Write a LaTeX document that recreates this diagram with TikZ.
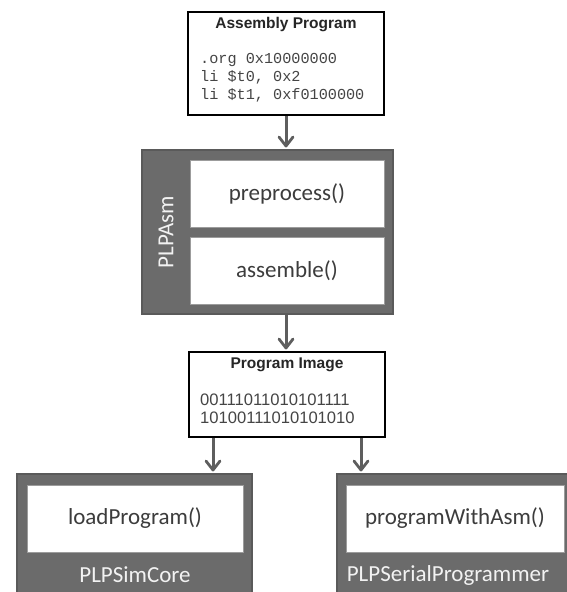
\documentclass[tikz,border=0pt]{standalone}
\usepackage{fontspec}
\setmainfont{Carlito}
\newfontfamily\headfont{Liberation Sans}
\newfontfamily\codefont{Liberation Mono}
\usetikzlibrary{arrows.meta}
\definecolor{boxgrey}{HTML}{6B6B6B}
\definecolor{boxedge}{HTML}{5A5A5A}
\definecolor{arrowgrey}{HTML}{5E5E5E}
\definecolor{inktext}{HTML}{3C3C3C}
\definecolor{codetext}{HTML}{454545}
\definecolor{labeltext}{HTML}{F2F2F2}
\tikzset{
  module/.style={draw=boxedge, line width=1.2pt, fill=boxgrey},
  method/.style={draw=boxedge!60, line width=0.8pt, fill=white},
  methodtext/.style={font=\fontsize{23}{26}\selectfont, text=inktext},
  modlabel/.style={font=\fontsize{23}{26}\selectfont, text=labeltext},
  databox/.style={draw=black, line width=2pt, fill=white},
  datatitle/.style={font=\headfont\bfseries\fontsize{15.5}{18}\selectfont, text=black!85},
  codeline/.style={font=\codefont\fontsize{15.2}{17.5}\selectfont, text=codetext, anchor=west, inner sep=0pt},
  binline/.style={font=\headfont\fontsize{16.6}{18}\selectfont, text=codetext, anchor=west, inner sep=0pt},
  dataflow/.style={color=arrowgrey, line width=3pt},
  flowhead/.style={color=arrowgrey, line width=2.8pt, line cap=round, line join=round},
}
\begin{document}
\begin{tikzpicture}[x=1pt, y=-1pt]
\useasboundingbox (0,0) rectangle (567,592);
\clip (0,0) rectangle (567,592);

% assembly source
\draw[databox] (188,12) rectangle (384,115);
\node[datatitle] (asmtitle) at (286,25) {Assembly Program};
\node[codeline] (c1) at (200,60) {.org 0x10000000};
\node[codeline] (c2) at (200,77.5) {li \$t0, 0x2};
\node[codeline] (c3) at (200,95) {li \$t1, 0xf0100000};
\coordinate (asmbot) at (286,116);

% assembler module
\draw[module] (142,150) rectangle (393,314);
\coordinate (plptop) at (286,146);
\coordinate (plpbot) at (286,314.5);
\draw[method] (190,160) rectangle (384,227);
\node[methodtext] (pre) at (287,193.5) {preprocess()};
\draw[method] (190,237) rectangle (384,304);
\node[methodtext] (asmb) at (287,270.5) {assemble()};
\node[modlabel, rotate=90] (plpasm) at (166,232) {PLPAsm};

% program image
\draw[databox] (189,352) rectangle (385,437);
\node[datatitle] (imgtitle) at (287,365) {Program Image};
\node[binline] (b1) at (200,400) {00111011010101111};
\node[binline] (b2) at (200,417.5) {10100111010101010};
\coordinate (imgtop) at (286,348);
\coordinate (imgl) at (213,438);
\coordinate (imgr) at (361,438);

% simulator core
\draw[module] (17,474) rectangle (252,600);
\draw[method] (27,485) rectangle (243,552);
\node[methodtext] (load) at (135,518.5) {loadProgram()};
\node[modlabel] (simcore) at (135,575) {PLPSimCore};
\coordinate (simtop) at (213,470);

% serial programmer
\draw[module] (337,474) rectangle (580,600);
\draw[method] (346,485) rectangle (564,552);
\node[methodtext] (prog) at (455,518.5) {programWithAsm()};
\node[modlabel] (serial) at (448,575) {PLPSerialProgrammer};
\coordinate (sertop) at (361,470);

% data flow: shaft plus open V head (canvas y points up)
\foreach \a/\b in {asmbot/plptop, plpbot/imgtop, imgl/simtop, imgr/sertop} {
  \draw[dataflow] (\a) -- ([yshift=1.5pt]\b);
  \draw[flowhead] ([xshift=-7pt,yshift=9pt]\b) -- (\b) -- ([xshift=7pt,yshift=9pt]\b);
}
\end{tikzpicture}
\end{document}
